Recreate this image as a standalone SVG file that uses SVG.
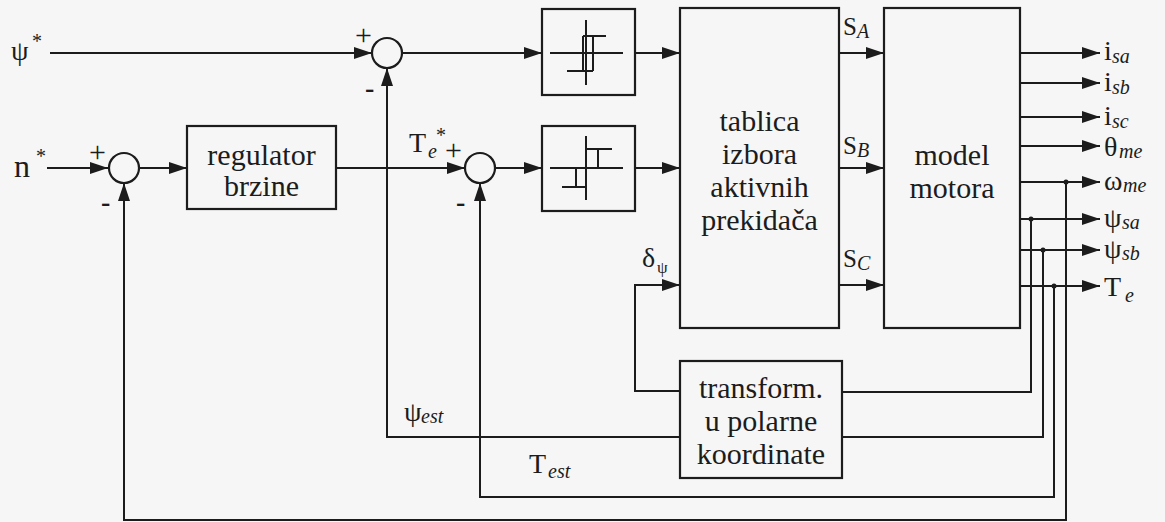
<svg xmlns="http://www.w3.org/2000/svg" width="1165" height="522" viewBox="0 0 1165 522" font-family="'Liberation Serif', 'Times New Roman', serif">
<defs>
<marker id="ah" markerUnits="userSpaceOnUse" markerWidth="18" markerHeight="12" refX="18" refY="6" orient="auto">
<path d="M0,0 L18,6 L0,12 z" fill="#1c1c1c"/>
</marker>
<style>
.ln{fill:none;stroke:#1c1c1c;stroke-width:2}
.cn{fill:none;stroke:#1c1c1c;stroke-width:2;marker-end:url(#ah)}
.bx{fill:none;stroke:#1c1c1c;stroke-width:2.2}
.sm{fill:none;stroke:#1c1c1c;stroke-width:2}
.t{font-size:30px;fill:#1c1c1c;text-anchor:middle}
.l{font-size:28px;fill:#1c1c1c}
.s{font-size:20px;font-style:italic;fill:#1c1c1c}
.p{font-size:30px;fill:#1c1c1c}
.m{font-size:28px;font-weight:bold;fill:#1c1c1c}
.dot{fill:#1c1c1c}
</style>
</defs>
<rect x="0" y="0" width="1165" height="522" fill="#f6f6f6"/>

<g id="connectors">
<path class="cn" d="M50 53 H372"/>
<path class="cn" d="M402 53 H542"/>
<path class="cn" d="M635 53 H680"/>
<path class="cn" d="M47 168 H108"/>
<path class="cn" d="M139 168 H187"/>
<path class="cn" d="M336 168 H465"/>
<path class="cn" d="M495 168 H542"/>
<path class="cn" d="M635 168 H680"/>
<path class="cn" d="M839 53 H884"/>
<path class="cn" d="M839 168 H884"/>
<path class="cn" d="M839 285 H884"/>
<path class="cn" d="M1020 53 H1100"/>
<path class="cn" d="M1020 83 H1100"/>
<path class="cn" d="M1020 117 H1100"/>
<path class="cn" d="M1020 146 H1100"/>
<path class="cn" d="M1020 182 H1100"/>
<path class="cn" d="M1020 219 H1100"/>
<path class="cn" d="M1020 250 H1100"/>
<path class="cn" d="M1020 286 H1100"/>
<path class="cn" d="M680 437 H387 V68"/>
<path class="cn" d="M1054 286 V497 H480 V183"/>
<path class="cn" d="M1066 182 V520 H124 V183"/>
<path class="ln" d="M1031 219 V392 H842"/>
<path class="ln" d="M1043 250 V437 H842"/>
<path class="cn" d="M680 391 H635 V285 H680"/>
<circle class="dot" cx="1066" cy="182" r="2.5"/>
<circle class="dot" cx="1031" cy="219" r="2.5"/>
<circle class="dot" cx="1043" cy="250" r="2.5"/>
<circle class="dot" cx="1054" cy="286" r="2.5"/>
</g>

<g id="sum1">
<circle class="bx" cx="387" cy="53" r="15"/>
<text class="p" x="355" y="45">+</text>
<text class="m" x="365" y="97">-</text>
</g>
<g id="sum2">
<circle class="bx" cx="124" cy="168" r="15"/>
<text class="p" x="89" y="162">+</text>
<text class="m" x="101" y="211">-</text>
</g>
<g id="sum3">
<circle class="bx" cx="480" cy="168" r="15"/>
<text class="p" x="445" y="160">+</text>
<text class="m" x="456" y="211">-</text>
</g>

<g id="in-psi">
<text class="l" x="11" y="60">ψ</text>
<text class="l" x="32" y="48" style="font-size:20px">*</text>
</g>
<g id="in-n">
<text class="l" x="14" y="177" style="font-size:32px">n</text>
<text class="l" x="36" y="163" style="font-size:20px">*</text>
</g>

<g id="regulator">
<rect class="bx" x="187" y="126" width="149" height="83"/>
<text class="t" x="261.5" y="165">regulator</text>
<text class="t" x="261.5" y="196">brzine</text>
</g>

<g id="hyst1">
<rect class="bx" x="542" y="9" width="93" height="86"/>
<path class="sm" d="M550 53 H623 M586 20 V85 M583 36 H606 M583 36 V71 M593 36 V71 M567 71 H593"/>
</g>
<g id="hyst2">
<rect class="bx" x="542" y="126" width="93" height="85"/>
<path class="sm" d="M550 168 H623 M586 136 V200 M586 149 H612 M598 149 V168 M576 168 V187 M562 187 H586"/>
</g>

<g id="tablica">
<rect class="bx" x="680" y="8" width="159" height="320"/>
<text class="t" x="759.5" y="131">tablica</text>
<text class="t" x="759.5" y="164">izbora</text>
<text class="t" x="759.5" y="197">aktivnih</text>
<text class="t" x="759.5" y="230">prekidača</text>
</g>

<g id="model">
<rect class="bx" x="884" y="8" width="136" height="320"/>
<text class="t" x="952" y="165">model</text>
<text class="t" x="952" y="198">motora</text>
</g>

<g id="transform">
<rect class="bx" x="680" y="361" width="162" height="117"/>
<text class="t" x="761" y="398">transform.</text>
<text class="t" x="761" y="431">u polarne</text>
<text class="t" x="761" y="464">koordinate</text>
</g>

<g id="labels">
<text class="l" x="409" y="152">T</text><text class="s" x="428" y="158">e</text><text class="l" x="436" y="142" style="font-size:20px">*</text>
<text class="l" x="843" y="35" style="font-size:25px">S</text><text class="s" x="857" y="38">A</text>
<text class="l" x="843" y="154" style="font-size:25px">S</text><text class="s" x="857" y="157">B</text>
<text class="l" x="843" y="267" style="font-size:25px">S</text><text class="s" x="857" y="270">C</text>
<text class="l" x="642" y="267">δ</text><text class="s" x="657" y="273" style="font-style:normal;font-size:17px">ψ</text>
<text class="l" x="404" y="421">ψ</text><text class="s" x="421" y="423">est</text>
<text class="l" x="529" y="473">T</text><text class="s" x="548" y="478">est</text>
<text class="l" x="1104" y="60">i</text><text class="s" x="1112" y="63">sa</text>
<text class="l" x="1104" y="91">i</text><text class="s" x="1112" y="94">sb</text>
<text class="l" x="1104" y="125">i</text><text class="s" x="1112" y="128">sc</text>
<text class="l" x="1104" y="156">θ</text><text class="s" x="1119" y="158">me</text>
<text class="l" x="1104" y="190">ω</text><text class="s" x="1123" y="192">me</text>
<text class="l" x="1104" y="227">ψ</text><text class="s" x="1122" y="229">sa</text>
<text class="l" x="1104" y="258">ψ</text><text class="s" x="1122" y="260">sb</text>
<text class="l" x="1104" y="296">T</text><text class="s" x="1125" y="302">e</text>
</g>
</svg>
